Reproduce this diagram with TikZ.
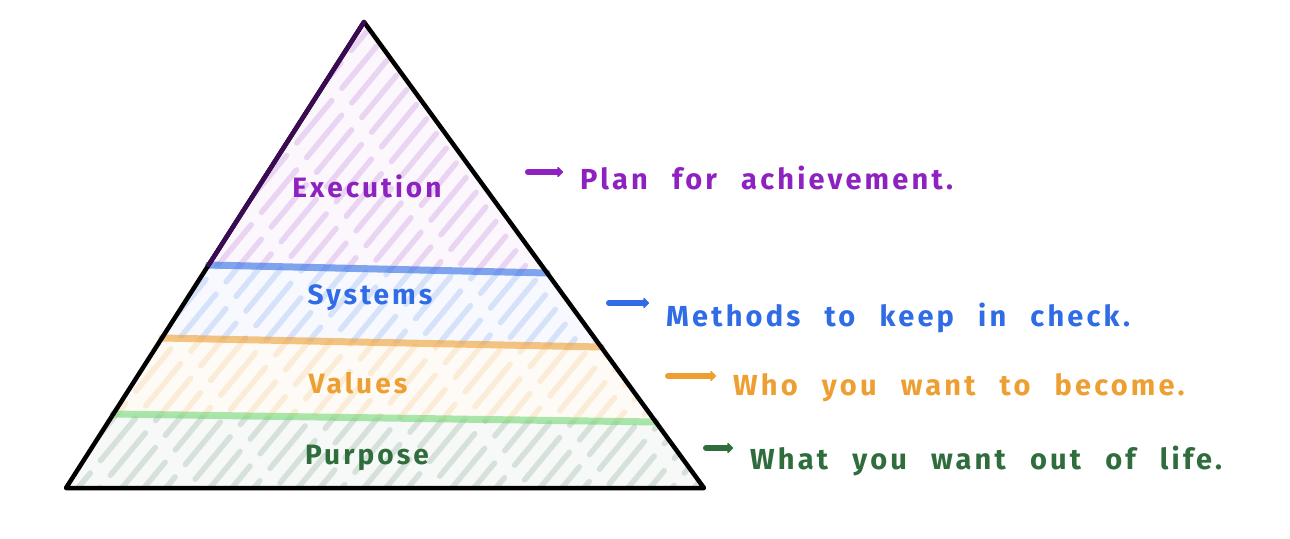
\documentclass[tikz,border=0pt]{standalone}
\usepackage{fontspec}
\setmainfont{Fira Sans}[LetterSpace=11,WordSpace=2.4]
\usetikzlibrary{arrows.meta}

\definecolor{execink}{HTML}{8E22C0}
\definecolor{sysink}{HTML}{2F6CE6}
\definecolor{valink}{HTML}{EE9F32}
\definecolor{purink}{HTML}{2F6D3C}
\definecolor{execedge}{HTML}{3C0A55}

\tikzset{
  hatch/.style={line width=5.5pt, line cap=round, opacity=0.16,
                dash pattern=on 55pt off 16pt},
  bandline/.style={line width=7pt, line cap=round, opacity=0.6},
  layer/.style={font=\fontsize{28}{30}\selectfont\bfseries, inner sep=0pt},
  note/.style={font=\fontsize{29}{32}\selectfont\bfseries, anchor=west, inner sep=0pt},
  pointer/.style={line width=6pt, line cap=round,
                  -{Triangle[length=6pt,width=12pt,round]}, shorten >=17pt},
}

\begin{document}
\begin{tikzpicture}[x=1pt,y=-1pt]
\useasboundingbox (0,0) rectangle (1290,538);
\fill[white] (0,0) rectangle (1290,538);

% corners of the pyramid and the band boundaries on its sides
\coordinate (apex) at (364,22);
\coordinate (bl) at (66,488);
\coordinate (br) at (704,488);
\coordinate (s1l) at (208.6,265);
\coordinate (s1r) at (547.1,273);
\coordinate (s2l) at (161.9,338);
\coordinate (s2r) at (601.1,347);
\coordinate (s3l) at (113.3,414);
\coordinate (s3r) at (655.8,422);

% hatched layers
\foreach \band/\ink in {{(apex) -- (s1l) -- (s1r) -- cycle}/execink,
                        {(s1l) -- (s1r) -- (s2r) -- (s2l) -- cycle}/sysink,
                        {(s2l) -- (s2r) -- (s3r) -- (s3l) -- cycle}/valink,
                        {(s3l) -- (s3r) -- (br) -- (bl) -- cycle}/purink}{
  \begin{scope}
    \clip \band;
    \fill[\ink, opacity=0.035] (0,0) rectangle (800,538);
    \foreach \x in {-460,-438,...,760}{
      \pgfmathsetmacro\ph{mod(abs(\x)*17,71)}
      \draw[hatch, \ink, dash phase=\ph pt] (\x,500) -- ++(440,-533);
    }
  \end{scope}
}

% band boundaries
\draw[bandline, sysink] (s1l) -- (s1r);
\draw[bandline, valink] (s2l) -- (s2r);
\draw[bandline, purink!45!green!60] (s3l) -- (s3r);

% pyramid outline
\draw[line width=4.5pt, line join=round] (apex) -- (bl) -- (br) -- cycle;
\draw[line width=4.5pt, execedge, line cap=round] (apex) -- (s1l);

% layer names
\node[layer, text=execink] (exec) at (367,186) {Execution};
\node[layer, text=sysink] (sys) at (370,298) {Systems};
\node[layer, text=valink] (val) at (358,383) {Values};
\node[layer, text=purink] (pur) at (367,458) {Purpose};

% notes beside the layers
\node[note, text=execink] (nexec) at (580,178) {Plan for achievement.};
\node[note, text=sysink] (nsys) at (666,318) {Methods to keep in check.};
\node[note, text=valink] (nval) at (733,388) {Who you want to become.};
\node[note, text=purink] (npur) at (750,461) {What you want out of life.};

\coordinate (aexec) at (528,172);
\coordinate (asys) at (609,303);
\coordinate (aval) at (668,376);
\coordinate (apur) at (706,448);

\draw[pointer, execink] (aexec) -- (aexec -| nexec.west);
\draw[pointer, sysink] (asys) -- (asys -| nsys.west);
\draw[pointer, valink] (aval) -- (aval -| nval.west);
\draw[pointer, purink] (apur) -- (apur -| npur.west);
\end{tikzpicture}
\end{document}
